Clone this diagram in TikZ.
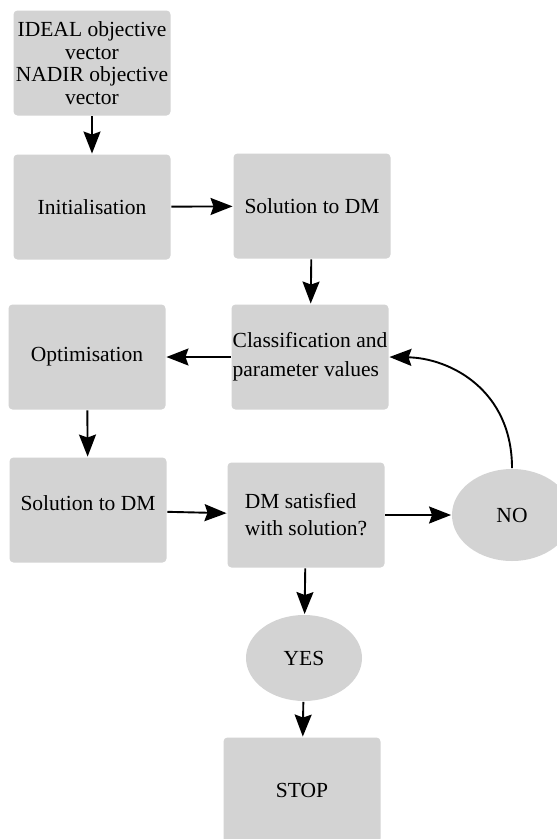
\documentclass[tikz,border=0pt]{standalone}
\usepackage{fontspec}
\setmainfont{Liberation Serif}
\usepackage{tikz}
\usetikzlibrary{arrows.meta,shapes.geometric}
\definecolor{boxgray}{HTML}{D3D3D3}

\begin{document}
\begin{tikzpicture}[x=1pt,y=-1pt,->,>={Stealth[length=22pt,width=17pt,inset=3pt]},
   line width=1.9pt, font=\fontsize{21.5}{27}\selectfont,
   stage/.style={fill=boxgray, rounded corners=4pt, minimum width=157pt,
     minimum height=105pt, inner sep=1pt, align=left},
   answer/.style={ellipse, fill=boxgray, inner sep=1pt}]
  \useasboundingbox (0,0) rectangle (557,839);
  \node[stage, align=center, font=\fontsize{21.5}{22.5}\selectfont] (ideal) at (92,63) {IDEAL objective\\vector\\NADIR objective\\vector};
  \node[stage] (init) at (92,207) {Initialisation};
  \node[stage] (sol1) at (312,206) {Solution to DM};
  \node[stage] (class) at (310,357) {Classification and\\[2pt]parameter values};
  \node[stage] (opt) at (87,357) {Optimisation};
  \node[stage, text depth=14pt] (sol2) at (88,510) {Solution to DM};
  \node[stage] (check) at (306,515) {DM satisfied\\with solution?};
  \node[answer, minimum width=120pt, minimum height=92pt] (no) at (512,515) {NO};
  \node[answer, minimum width=116pt, minimum height=86pt] (yes) at (304,658) {YES};
  \node[stage] (stop) at (302,790) {STOP};
  % flow
  \draw (ideal) -- (init);
  \draw (init) -- (sol1);
  \draw (sol1) -- (class);
  \draw (class) -- (opt);
  \draw (opt) -- (sol2);
  \draw (sol2) -- (check);
  \draw (check) -- (no);
  \draw (check) -- (yes);
  \draw (yes) -- (stop);
  % back to classification
  \draw (no.north) .. controls (512,390) and (450,358) .. (class.east);
\end{tikzpicture}
\end{document}
